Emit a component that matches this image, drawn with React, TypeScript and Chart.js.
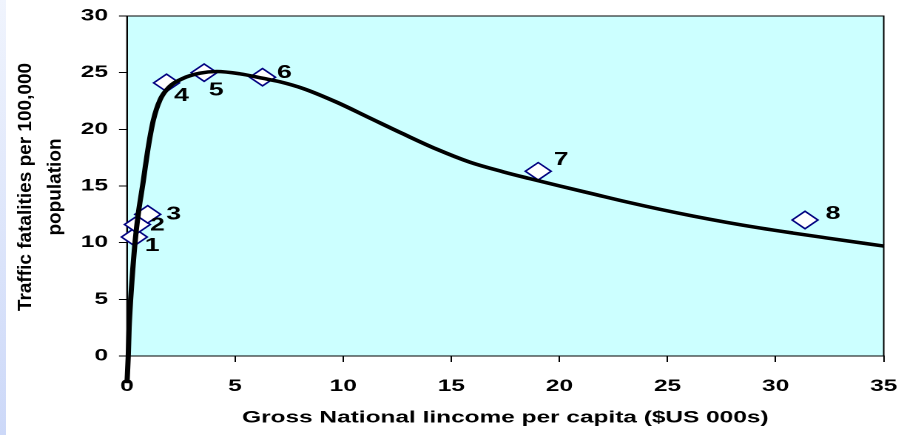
import React, { useEffect, useRef } from "react";
import { Chart, registerables } from "chart.js";

Chart.register(...registerables);

// ---- data ----
const groupLabels = ["1", "2", "3", "4", "5", "6", "7", "8"];
const groupGni = [0.34, 0.48, 0.96, 1.83, 3.57, 6.27, 19.02, 31.36];
const groupFatalities = [10.5, 11.6, 12.5, 24.1, 25.0, 24.6, 16.3, 12.0];

const curveGni = [
  0.0, 0.06, 0.1, 0.17, 0.27, 0.37, 0.52, 0.72, 1.0, 1.22, 1.53, 1.99, 2.6, 3.37, 4.15,
  5.22, 6.3, 7.07, 8.15, 9.69, 11.23, 12.77, 14.32, 15.86, 17.4, 18.63, 20.02, 21.56,
  23.1, 24.64, 26.18, 27.72, 29.26, 30.8, 32.35, 35.0,
];
const curveFatalities = [
  -2.4, 0, 2.5, 5, 7.7, 10, 12.5, 15, 18.6, 20.8, 22.6, 23.8, 24.5, 24.95, 25.1,
  24.9, 24.5, 24.2, 23.6, 22.4, 21.0, 19.6, 18.25, 17.1, 16.25, 15.65, 15.0, 14.3,
  13.6, 12.95, 12.35, 11.8, 11.3, 10.85, 10.42, 9.7,
];

const xTickValues = [0, 5, 10, 15, 20, 25, 30, 35];
const yTickValues = [0, 5, 10, 15, 20, 25, 30];
const xAxisTitle = "Gross National Iincome per capita ($US 000s)";
const yAxisTitle = ["Traffic fatalities per 100,000", "population"];

// ---- layout / style ----
const W = 904;
const H = 435;
const STRETCH = 1.48; // horizontal stretch of the reference rendering
const NW = Math.round(W / STRETCH);
const FONT = "'Liberation Sans', Arial, Helvetica, sans-serif";

const labelOffsets: [number, number][] = [
  [18, 9], [20, 1], [26, 0], [15, 13], [12, 18], [22, -4], [23, -11], [28, -6],
];

const plotAreaPlugin = {
  id: "plotArea",
  beforeDraw(chart: any) {
    const { ctx, chartArea: a } = chart;
    ctx.save();
    ctx.fillStyle = "#CCFFFF";
    ctx.fillRect(a.left, a.top, a.right - a.left, a.bottom - a.top);
    ctx.restore();
  },
  beforeDatasetsDraw(chart: any) {
    const { ctx, chartArea: a } = chart;
    ctx.save();
    ctx.strokeStyle = "#000";
    ctx.lineWidth = 1;
    ctx.strokeRect(a.left, a.top, a.right - a.left, a.bottom - a.top);
    ctx.restore();
  },
};

const labelsPlugin = {
  id: "pointLabels",
  afterDatasetsDraw(chart: any) {
    const { ctx } = chart;
    const meta = chart.getDatasetMeta(1);
    ctx.save();
    ctx.fillStyle = "#000";
    ctx.font = `bold 18px ${FONT}`;
    ctx.textAlign = "center";
    ctx.textBaseline = "middle";
    meta.data.forEach((pt: any, i: number) => {
      const [dx, dy] = labelOffsets[i];
      ctx.fillText(groupLabels[i], pt.x + dx / STRETCH, pt.y + dy);
    });
    ctx.restore();
  },
};

const yTitlePlugin = {
  id: "yTitle",
  afterDraw(chart: any) {
    const { ctx, chartArea: a } = chart;
    const cy = (a.top + a.bottom) / 2 + 1;
    const xs = [25.5 / STRETCH, 55.6 / STRETCH];
    ctx.save();
    ctx.fillStyle = "#000";
    ctx.font = `bold 19px ${FONT}`;
    ctx.textAlign = "center";
    ctx.textBaseline = "middle";
    yAxisTitle.forEach((line, i) => {
      ctx.save();
      ctx.translate(xs[i], cy);
      ctx.scale(1 / STRETCH, 1);
      ctx.rotate(-Math.PI / 2);
      ctx.fillText(line, 0, 0);
      ctx.restore();
    });
    ctx.restore();
  },
};

export default function App() {
  const ref = useRef<HTMLCanvasElement | null>(null);

  useEffect(() => {
    const canvas = ref.current;
    if (!canvas) return;
    const chart = new Chart(canvas, {
      type: "scatter",
      data: {
        datasets: [
          {
            label: "Fitted curve",
            data: curveGni.map((x, i) => ({ x, y: curveFatalities[i] })),
            showLine: true,
            borderColor: "#000",
            borderWidth: 3.5,
            pointRadius: 0,
            cubicInterpolationMode: "monotone",
            clip: false,
          } as any,
          {
            label: "Country income groups",
            data: groupGni.map((x, i) => ({ x, y: groupFatalities[i] })),
            showLine: false,
            pointStyle: "rectRot",
            pointRadius: 8.7,
            pointBackgroundColor: "#FFFFFF",
            pointBorderColor: "#000080",
            pointBorderWidth: 1.4,
            clip: false,
          } as any,
        ],
      },
      options: {
        animation: false,
        responsive: false,
        devicePixelRatio: 2,
        events: [],
        layout: {
          padding: { left: 0, right: NW - 884 / STRETCH, top: 16, bottom: 0 },
        },
        plugins: {
          legend: { display: false },
          tooltip: { enabled: false },
        },
        scales: {
          x: {
            type: "linear",
            min: xTickValues[0],
            max: xTickValues[xTickValues.length - 1],
            afterFit: (s: any) => {
              s.height = H - 356;
              s.paddingLeft = 0;
              s.paddingRight = 0;
            },
            afterBuildTicks: (s: any) => {
              s.ticks = xTickValues.map((v) => ({ value: v }));
            },
            grid: {
              drawOnChartArea: false,
              drawTicks: true,
              tickLength: 6,
              color: "#000",
              tickColor: "#000",
            },
            border: { display: true, color: "#000", width: 1 },
            ticks: {
              color: "#000",
              padding: 14.5,
              font: { family: FONT, size: 16.5, weight: "bold" },
            },
            title: {
              display: true,
              text: xAxisTitle,
              color: "#000",
              padding: { top: 0, bottom: 7 },
              font: { family: FONT, size: 16.5, weight: "bold" },
            },
          },
          y: {
            type: "linear",
            min: yTickValues[0],
            max: yTickValues[yTickValues.length - 1],
            afterFit: (s: any) => {
              s.width = 127 / STRETCH;
              s.paddingTop = 0;
              s.paddingBottom = 0;
            },
            afterBuildTicks: (s: any) => {
              s.ticks = yTickValues.map((v) => ({ value: v }));
            },
            grid: {
              drawOnChartArea: false,
              drawTicks: true,
              tickLength: 8 / STRETCH,
              color: "#000",
              tickColor: "#000",
            },
            border: { display: true, color: "#000", width: 1 },
            ticks: {
              color: "#000",
              padding: 7.4,
              font: { family: FONT, size: 16.5, weight: "bold" },
            },
          },
        },
      },
      plugins: [plotAreaPlugin, labelsPlugin, yTitlePlugin],
    } as any);
    return () => chart.destroy();
  }, []);

  return (
    <div
      style={{
        position: "fixed",
        left: 0,
        top: 0,
        width: W,
        height: H,
        background: "#FFFFFF",
        overflow: "hidden",
      }}
    >
      <div
        style={{
          position: "absolute",
          left: 0,
          top: 0,
          width: 6,
          height: H,
          background: "linear-gradient(to bottom, #F0F4FD, #CCD8F8)",
        }}
      />
      <canvas
        ref={ref}
        width={NW}
        height={H}
        style={{ position: "absolute", left: 0, top: 0, width: W, height: H, display: "block" }}
      />
    </div>
  );
}
